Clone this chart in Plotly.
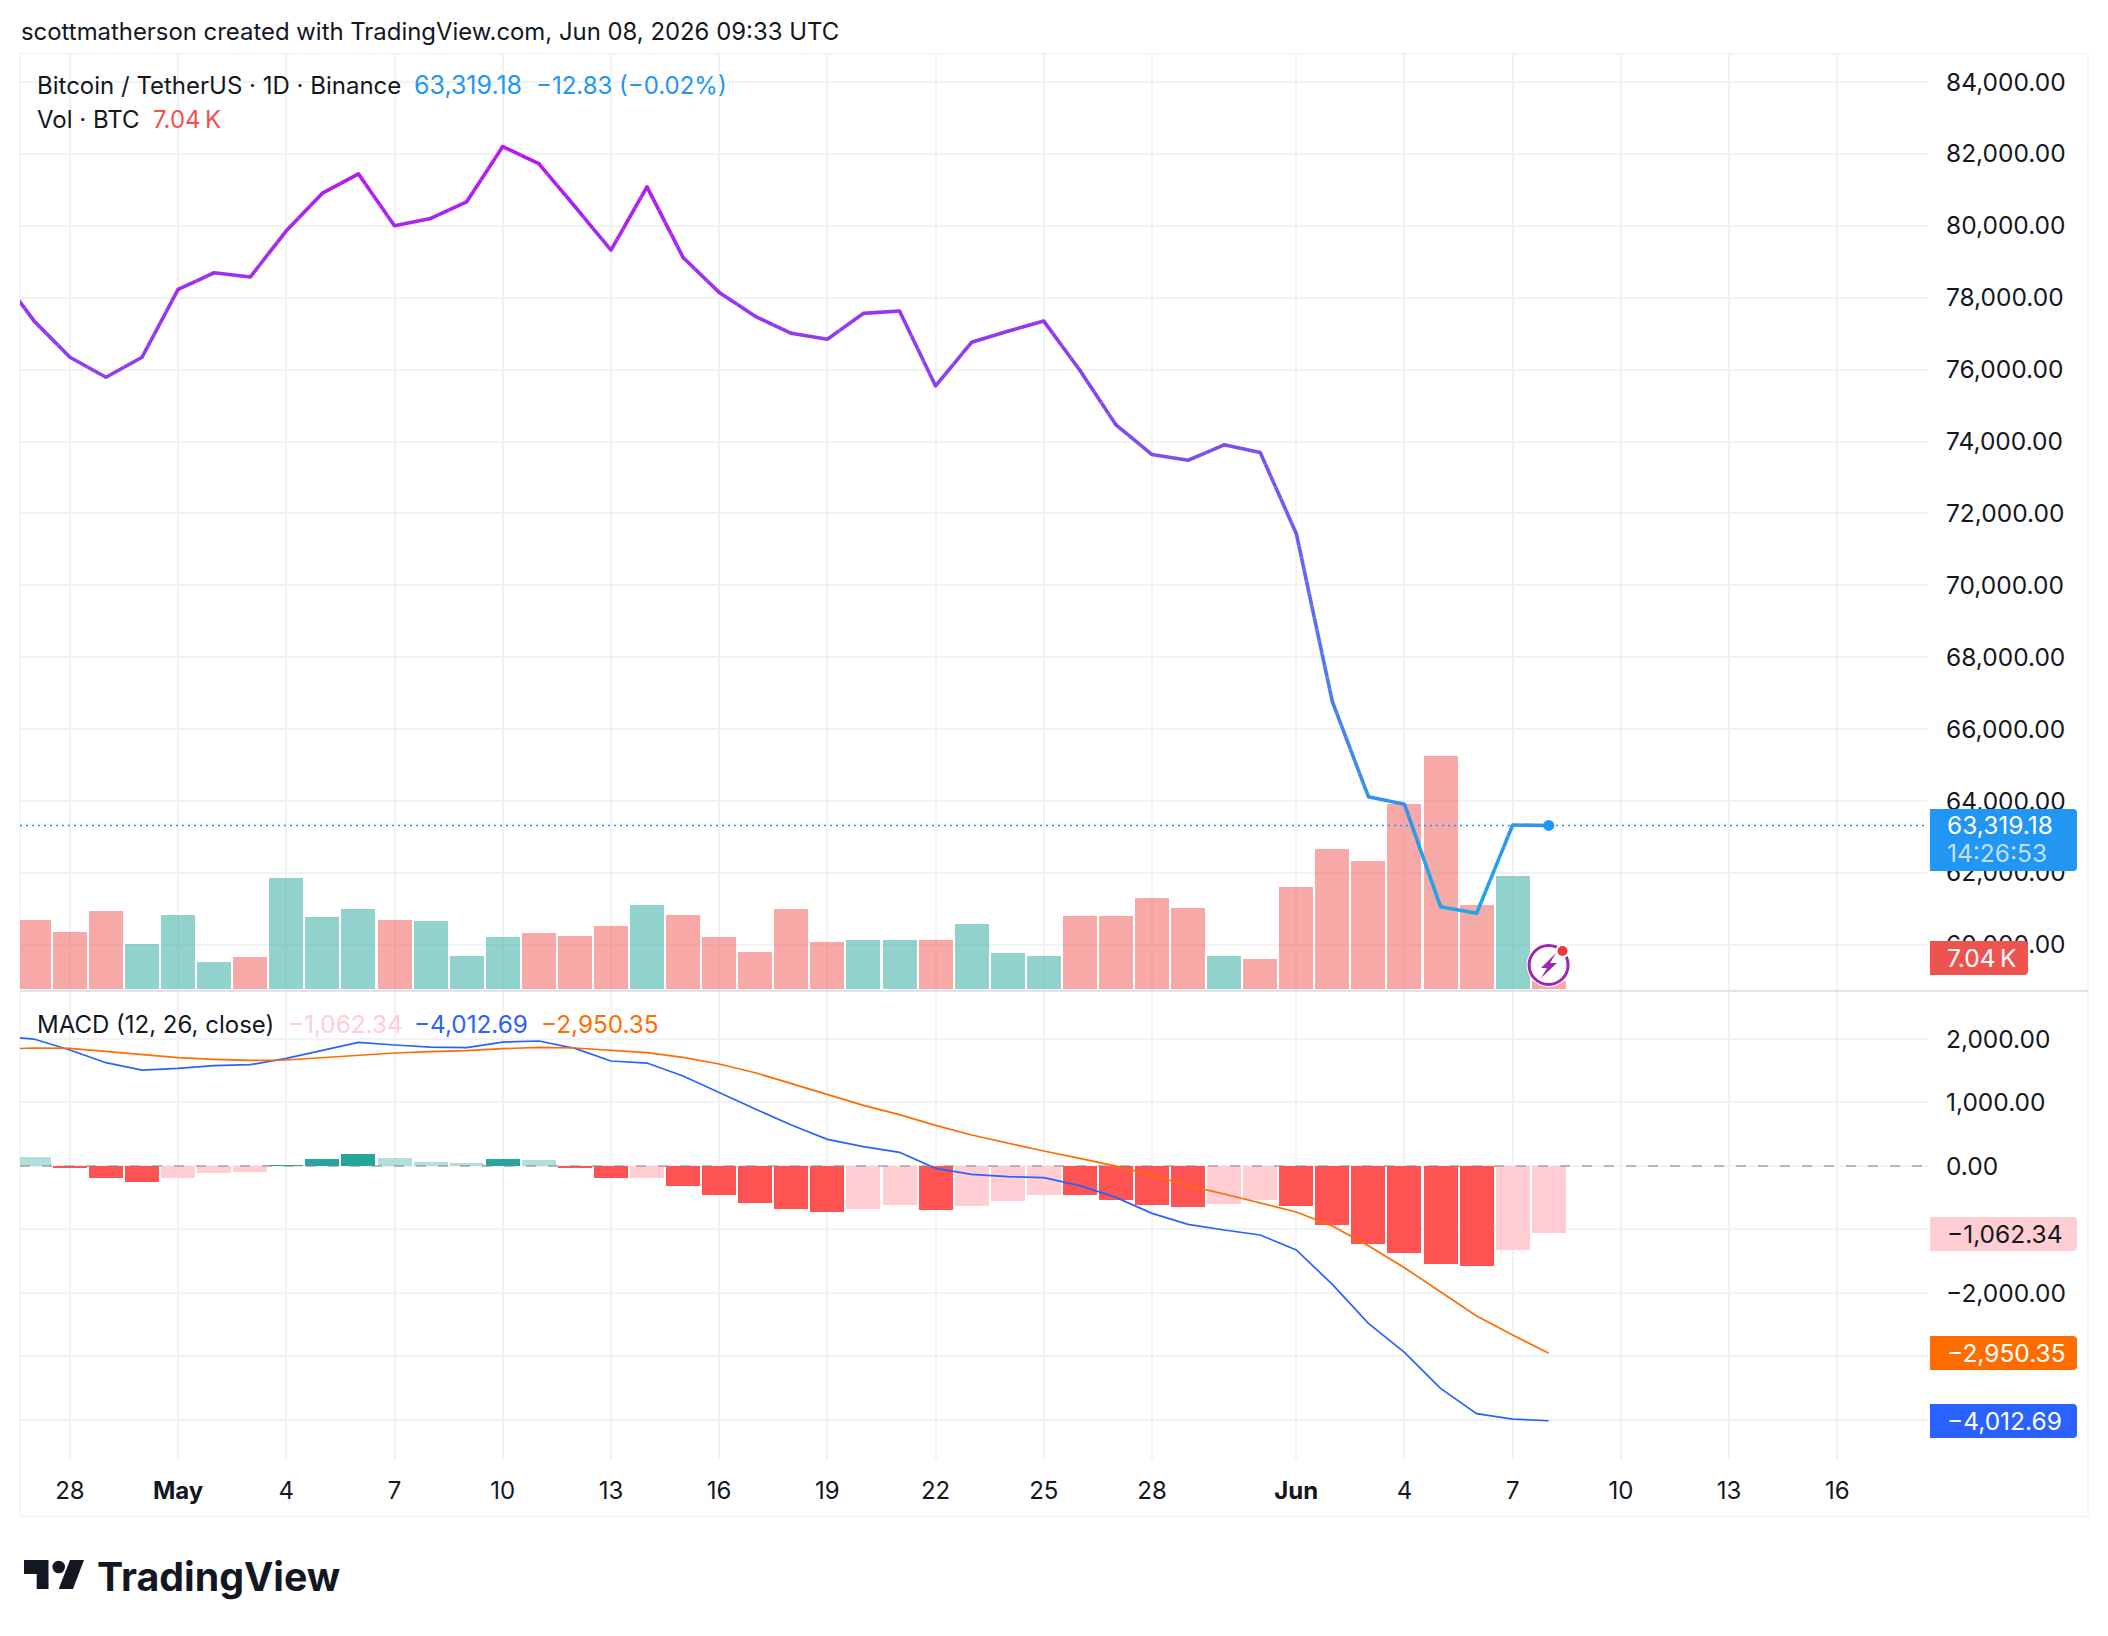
import math
import pandas as pd
import plotly.graph_objects as go

W, H = 2108, 1636
FONT = "Inter"
INK = "#131722"
GRID = "#F1F2F4"

# Daily series, 2026-04-26 through 2026-06-08
DATES = pd.date_range("2026-04-26", "2026-06-08", freq="D")
CLOSE = [78722, 77361, 76343, 75787, 76343, 78231, 78694, 78574, 79861, 80907, 81444,
         80000, 80204, 80667, 82204, 81731, 80537, 79324, 81083, 79120, 78148, 77481,
         77009, 76843, 77565, 77630, 75546, 76759, 77065, 77349, 75981, 74465, 73637,
         73479, 73907, 73693, 71442, 66765, 64120, 63908, 61060, 60876, 63332.01, 63319.18]
# Volume and histogram start one day later than the close series
VOLUME = [60.7, 50.2, 68.6, 39.6, 65.1, 23.8, 28.2, 97.7, 63.4, 70.4, 60.7, 59.8, 29.0,
          45.8, 49.3, 46.6, 55.4, 73.9, 65.1, 45.8, 32.6, 70.4, 41.4, 43.1, 43.1, 43.1,
          57.2, 31.7, 29.0, 63.9, 63.9, 80.4, 71.0, 29.0, 26.4, 89.8, 123.2, 112.6,
          162.8, 205.0, 73.9, 99.4, 7.04]
MACD = [2045, 1998, 1825, 1626, 1510, 1536, 1578, 1594, 1694, 1825, 1946, 1904, 1872,
        1862, 1951, 1967, 1851, 1652, 1620, 1416, 1153, 896, 644, 418, 303, 214, -38,
        -133, -170, -185, -311, -495, -747, -920, -1009, -1088, -1324, -1865, -2479,
        -2936, -3503, -3902, -3986, -4012.69]
SIGNAL = [1836, 1857, 1851, 1799, 1746, 1704, 1678, 1662, 1668, 1704, 1752, 1778, 1799,
          1815, 1846, 1867, 1857, 1820, 1783, 1710, 1605, 1468, 1300, 1122, 954, 807,
          639, 487, 356, 235, 119, -2, -144, -311, -442, -579, -726, -946, -1256, -1603,
          -1981, -2364, -2663, -2950.35]
HIST = [136, -33, -190, -254, -190, -112, -96, 14, 109, 187, 124, 61, 46, 109, 93, -33,
        -190, -190, -317, -458, -584, -679, -726, -679, -616, -695, -632, -553, -457,
        -460, -537, -616, -647, -600, -537, -631, -931, -1230, -1372, -1545, -1577,
        -1324, -1062.34]

PRICE_TICKS = list(range(60000, 84001, 2000))
MACD_TICKS = [2000, 1000, 0, -1000, -2000, -3000, -4000]
# The tags on the scale sit where the lower labels would go, so those stay blank
MACD_TICK_TEXT = ["2,000.00", "1,000.00", "0.00", "", "−2,000.00", "", ""]
TIME_TICKS = ["2026-04-28", "2026-05-01", "2026-05-04", "2026-05-07", "2026-05-10", "2026-05-13",
              "2026-05-16", "2026-05-19", "2026-05-22", "2026-05-25", "2026-05-28", "2026-06-01",
              "2026-06-04", "2026-06-07", "2026-06-10", "2026-06-13", "2026-06-16"]
TIME_TEXT = ["28", "<b>May</b>", "4", "7", "10", "13", "16", "19", "22", "25", "28", "<b>Jun</b>",
             "4", "7", "10", "13", "16"]


def px(x):
    return x / W


def py(y):
    return 1 - y / H


def line_colour(price):
    # Vertical gradient of the close line, magenta at the highs to sky blue at the lows
    t = min(1, max(0, (82200 - price) / (82200 - 60800)))
    top, low = (186, 22, 240), (28, 168, 236)
    return "rgb(%d,%d,%d)" % tuple(round(a + (b - a) * t) for a, b in zip(top, low))


BAR_DATES = DATES[1:]
fig = go.Figure()

# Volume sits on the base subplot so that the close line is painted over it
vol_colours = ["rgba(38,166,154,0.5)" if CLOSE[i + 1] >= CLOSE[i] else "rgba(239,83,80,0.5)"
               for i in range(len(VOLUME))]
fig.add_bar(x=BAR_DATES, y=VOLUME, marker=dict(color=vol_colours, line_width=0),
            width=0.943 * 86400000, xaxis="x", yaxis="y", hoverinfo="skip")

# Close line, cut into short stretches to carry the gradient
for i in range(len(CLOSE) - 1):
    a, b = CLOSE[i], CLOSE[i + 1]
    pieces = max(1, math.ceil(abs(b - a) / 350))
    for k in range(pieces):
        f0, f1 = k / pieces, (k + 1) / pieces
        t0 = DATES[i] + (DATES[i + 1] - DATES[i]) * f0
        t1 = DATES[i] + (DATES[i + 1] - DATES[i]) * f1
        v0, v1 = a + (b - a) * f0, a + (b - a) * f1
        fig.add_scatter(x=[t0, t1], y=[v0, v1], mode="lines", xaxis="x", yaxis="y2",
                        line=dict(color=line_colour((v0 + v1) / 2), width=3.6), hoverinfo="skip")
fig.add_scatter(x=DATES, y=CLOSE, mode="markers", xaxis="x", yaxis="y2", hoverinfo="skip",
                marker=dict(size=3.6, color=[line_colour(v) for v in CLOSE]))
fig.add_scatter(x=[DATES[-1]], y=[CLOSE[-1]], mode="markers", xaxis="x", yaxis="y2", hoverinfo="skip",
                marker=dict(size=11, color="#2196F3"))

# MACD pane
hist_colours = []
for i, v in enumerate(HIST):
    prev = HIST[i - 1] if i else None
    if v >= 0:
        hist_colours.append("#26A69A" if prev is not None and v > prev else "#B2DFDB")
    else:
        hist_colours.append("#FF5252" if prev is not None and v < prev else "#FFCDD2")
fig.add_bar(x=BAR_DATES, y=HIST, marker=dict(color=hist_colours, line_width=0),
            width=0.943 * 86400000, xaxis="x2", yaxis="y3", hoverinfo="skip")
fig.add_scatter(x=DATES, y=MACD, mode="lines", line=dict(color="#2962FF", width=1.7),
                xaxis="x2", yaxis="y3", hoverinfo="skip")
fig.add_scatter(x=DATES, y=SIGNAL, mode="lines", line=dict(color="#FF6D00", width=1.7),
                xaxis="x2", yaxis="y3", hoverinfo="skip")

X_RANGE = ["2026-04-26 14:48", "2026-06-18 12:20"]
X_DOMAIN = [px(20), px(1928)]
tick_font = dict(family=FONT, size=24.5, color=INK)
time_font = dict(family=FONT, size=24, color=INK)
common_x = dict(type="date", range=X_RANGE, domain=X_DOMAIN, tickmode="array", tickvals=TIME_TICKS,
                showgrid=True, gridcolor=GRID, gridwidth=1.5, zeroline=False, showline=False, ticks="")
layout = dict(
    width=W, height=H, margin=dict(l=0, r=0, t=0, b=0), paper_bgcolor="white", plot_bgcolor="white",
    showlegend=False, bargap=0, barmode="overlay",
    xaxis=dict(**common_x, anchor="y", showticklabels=False),
    xaxis2=dict(**common_x, anchor="y3", ticktext=TIME_TEXT, showticklabels=True, tickfont=time_font,
                ticklabelstandoff=14),
    yaxis=dict(domain=[py(990.7), py(54)], range=[-1.5, 822.8], visible=False, anchor="x"),
    yaxis2=dict(domain=[py(990.7), py(54)], range=[58723, 84779], overlaying="y", side="right", anchor="x",
                tickmode="array", tickvals=PRICE_TICKS, ticktext=[f"{v:,}.00" for v in PRICE_TICKS],
                tickfont=tick_font, showgrid=True, gridcolor=GRID, gridwidth=1.5, zeroline=False,
                showline=False, ticks="", ticklabelstandoff=17),
    yaxis3=dict(domain=[py(1460), py(992)], range=[-4631, 2739], side="right", anchor="x2",
                tickmode="array", tickvals=MACD_TICKS, ticktext=MACD_TICK_TEXT,
                tickfont=tick_font, showgrid=True, gridcolor=GRID, gridwidth=1.5, zeroline=False,
                showline=False, ticks="", ticklabelstandoff=17),
)

shapes = []


def poly(points, fill, line=None):
    path = "M" + " L".join(f"{px(x):.6f},{py(y):.6f}" for x, y in points) + " Z"
    shapes.append(dict(type="path", xref="paper", yref="paper", path=path, fillcolor=fill,
                       line=dict(width=0) if line is None else line, layer="above"))


def disc(cx, cy, r, fill, line=None):
    shapes.append(dict(type="circle", xref="paper", yref="paper", x0=px(cx - r), x1=px(cx + r),
                       y0=py(cy + r), y1=py(cy - r), fillcolor=fill,
                       line=dict(width=0) if line is None else line, layer="above"))


def pill(x0, x1, y0, y1, fill):
    r = 3
    pts = [(x0, y0), (x1 - r, y0), (x1 - 1, y0 + 1), (x1, y0 + r), (x1, y1 - r), (x1 - 1, y1 - 1),
           (x1 - r, y1), (x0, y1)]
    poly(pts, fill)


# Frame and pane divider
shapes.append(dict(type="rect", xref="paper", yref="paper", x0=px(20), x1=px(2088), y0=py(1516.5), y1=py(53.5),
                   line=dict(color="#F2F3F5", width=1.5), fillcolor="rgba(0,0,0,0)", layer="below"))
shapes.append(dict(type="line", xref="paper", yref="paper", x0=px(20), x1=px(2088), y0=py(991), y1=py(991),
                   line=dict(color="#E0E3EB", width=2), layer="above"))
# Last-price dotted line and the MACD zero line
shapes.append(dict(type="line", xref="x domain", yref="y2", x0=0, x1=1, y0=CLOSE[-1], y1=CLOSE[-1],
                   line=dict(color="#2196F3", width=1.5, dash="2px,4px"), layer="above"))
shapes.append(dict(type="line", xref="x2 domain", yref="y3", x0=0, x1=1, y0=0, y1=0,
                   line=dict(color="rgba(130,134,145,0.7)", width=1.5, dash="10px,12px"), layer="above"))

# Value tags on the price scale
pill(1930, 2077, 809, 871, "#2196F3")
pill(1930, 2028, 941, 975, "#EF5350")
pill(1930, 2077, 1217, 1251, "#FFCDD2")
pill(1930, 2077, 1336, 1370, "#FF6D00")
pill(1930, 2077, 1404, 1438, "#2962FF")

# Bolt badge on the last bar
disc(1548.6, 965, 22, "white")
disc(1548.6, 965, 19.5, "white", dict(color="#9C27B0", width=3))
poly([(1556, 953), (1541, 968), (1547, 968), (1541, 978), (1557, 963), (1550, 963)], "#9C27B0")
disc(1562.5, 951, 7, "white")
disc(1562.5, 951, 5, "#F23645")

# TradingView mark
poly([(24, 1560), (48.5, 1560), (48.5, 1589), (36.7, 1589), (36.7, 1574), (24, 1574)], INK)
disc(58.7, 1567, 6.3, INK)
poly([(70, 1560), (84, 1560), (73, 1589), (58.7, 1589)], INK)
layout["shapes"] = shapes

annotations = []


def label(x, y, text, colour=INK, size=24, **kw):
    annotations.append(dict(xref="paper", yref="paper", x=px(x), y=py(y), text=text, showarrow=False,
                            xanchor="left", yanchor="middle", align="left",
                            font=dict(family=FONT, size=size, color=colour), **kw))


label(19, 32, "scottmatherson created with TradingView.com, Jun 08, 2026 09:33 UTC", size=23.9)
label(35, 85, "Bitcoin / TetherUS · 1D · Binance")
label(412, 85, "63,319.18", "#2196F3", 25)
label(534, 85, "−12.83 (−0.02%)", "#2196F3")
label(35, 119, "Vol · BTC")
label(151, 119, "7.04\u2009K", "#EF5350")
label(35, 1024, "MACD (12, 26, close)")
label(286, 1024, "−1,062.34", "#FFCDD2", 24.3)
label(412, 1024, "−4,012.69", "#2962FF", 24.3)
label(539, 1024, "−2,950.35", "#FF6D00", 24.3)
label(1945, 825, "63,319.18", "white", 24.5)
label(1945, 853, "14:26:53", "rgba(255,255,255,0.72)", 24.5)
label(1945, 958, "7.04\u2009K", "white", 24.5)
label(1945, 1234, "−1,062.34", INK, 24.5)
label(1945, 1353, "−2,950.35", "white", 24.5)
label(1945, 1421, "−4,012.69", "white", 24.5)
label(95, 1576, "<b>TradingView</b>", INK, 39.3)
layout["annotations"] = annotations

fig.update_layout(**layout)
fig.write_html("out.html", config={"displayModeBar": False})
